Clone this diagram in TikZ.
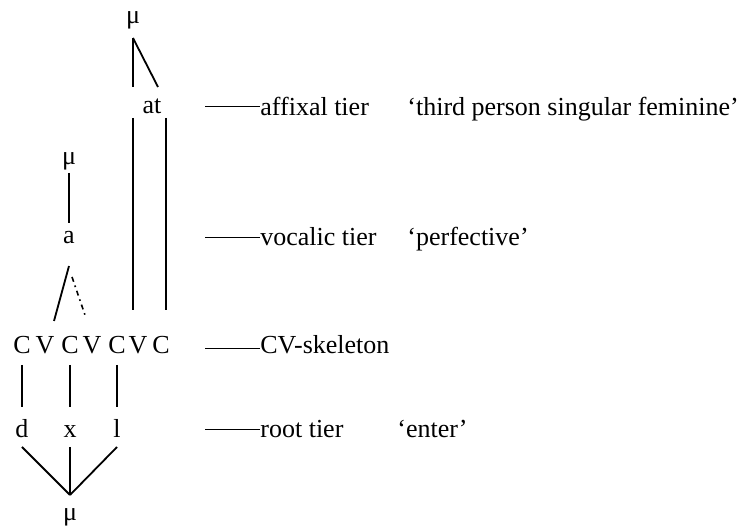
\documentclass[tikz,border=0pt]{standalone}
\usepackage{fontspec}
\setmainfont{Liberation Serif}
\tikzset{
  seg/.style={anchor=base,inner sep=0pt},
  assoc/.style={line width=0.9pt},
  faint/.style={line width=0.8pt,dash pattern=on 2.5pt off 2pt on 0.8pt off 2pt},
  tierline/.style={line width=0.5pt},
  tier/.style={anchor=base west,inner sep=0pt}
}
\begin{document}
\begin{tikzpicture}[x=0.5pt,y=-0.5pt,font=\fontsize{13}{15}\selectfont]
  \useasboundingbox (0,0) rectangle (740,529);

  % Affixal tier
  \node[seg] (muA) at (133,24) {μ};
  \node[seg] (at) at (152,114) {at};
  \draw[assoc] ([yshift=-7pt]muA.base) -- ([xshift=-9.5pt,yshift=13.5pt]at.base);
  \draw[assoc] ([yshift=-7pt]muA.base) -- ([xshift=3pt,yshift=13.5pt]at.base);

  % Vocalic tier
  \node[seg] (muV) at (69,165) {μ};
  \node[seg] (a) at (69,244) {a};
  \draw[assoc] ([yshift=-4pt]muV.base) -- ([yshift=10.5pt]a.base);

  % CV-skeleton
  \node[seg] (C1) at (22,354) {C};
  \node[seg] (V2) at (45,354) {V};
  \node[seg] (C3) at (70,354) {C};
  \node[seg] (V4) at (92,354) {V};
  \node[seg] (C5) at (117,354) {C};
  \node[seg] (V6) at (138,354) {V};
  \node[seg] (C7) at (161,354) {C};

  % Root tier
  \node[seg] (d) at (22,438) {d};
  \node[seg] (x) at (70,438) {x};
  \node[seg] (l) at (117,438) {l};
  \node[seg] (muR) at (70,521) {μ};

  % Associations
  \draw[assoc] ([yshift=-11pt]a.base) -- ([xshift=4.5pt,yshift=16.5pt]V2.base);
  \draw[faint] ([xshift=1.5pt,yshift=-16.5pt]a.base) -- ([xshift=-3.5pt,yshift=19.5pt]V4.base);
  \draw[assoc] ([xshift=-9.5pt,yshift=-2pt]at.base) -- ([xshift=-2.5pt,yshift=22pt]V6.base);
  \draw[assoc] ([xshift=7pt,yshift=-2pt]at.base) -- ([xshift=2.5pt,yshift=22pt]C7.base);
  \draw[assoc] ([yshift=-5.5pt]C1.base) -- ([yshift=15.5pt]d.base);
  \draw[assoc] ([yshift=-5.5pt]C3.base) -- ([yshift=15.5pt]x.base);
  \draw[assoc] ([yshift=-5.5pt]C5.base) -- ([yshift=15.5pt]l.base);
  \draw[assoc] ([yshift=-4.5pt]d.base) -- ([yshift=13pt]muR.base);
  \draw[assoc] ([yshift=-4.5pt]x.base) -- ([yshift=13pt]muR.base);
  \draw[assoc] ([yshift=-4.5pt]l.base) -- ([yshift=13pt]muR.base);

  % Labels
  \node[tier] (lA) at (260,116) {affixal tier};
  \node[tier] (gA) at (407,116) {‘third person singular feminine’};
  \node[tier] (lV) at (260,246) {vocalic tier};
  \node[tier] (gV) at (407,246) {‘perfective’};
  \node[tier] (lC) at (260,354) {CV-skeleton};
  \node[tier] (lR) at (260,438) {root tier};
  \node[tier] (gR) at (397,438) {‘enter’};
  \coordinate (tA) at (205,107);
  \coordinate (tV) at (205,238);
  \coordinate (tC) at (205,349);
  \coordinate (tR) at (205,430);
  \draw[tierline] (tA) -- (tA -| lA.west);
  \draw[tierline] (tV) -- (tV -| lV.west);
  \draw[tierline] (tC) -- (tC -| lC.west);
  \draw[tierline] (tR) -- (tR -| lR.west);

\end{tikzpicture}
\end{document}
